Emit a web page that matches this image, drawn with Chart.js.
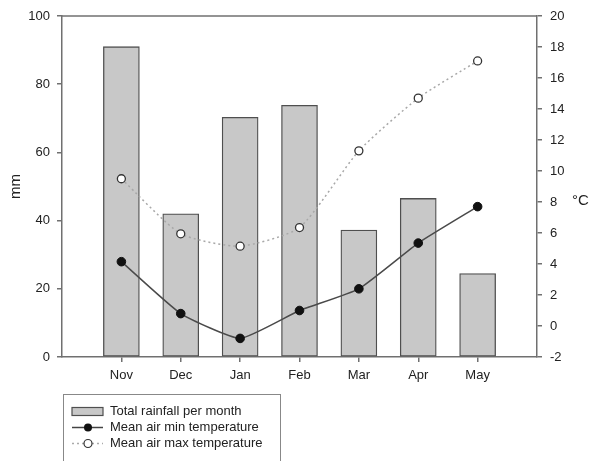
<!DOCTYPE html>
<html>
<head>
<meta charset="utf-8">
<script src="https://cdn.jsdelivr.net/npm/chart.js@4/dist/chart.umd.min.js"></script>
<style>
html, body { margin: 0; padding: 0; background: #fff; }
#wrap { width: 589px; height: 461px; }
</style>
</head>
<body>
<div id="wrap"><canvas id="chart" width="589" height="461"></canvas></div>
<script>
// データ
const months = ['Nov', 'Dec', 'Jan', 'Feb', 'Mar', 'Apr', 'May'];
const rainfall = [91, 42, 70.3, 73.8, 37.2, 46.5, 24.5];   // mm
const minTemp = [4.15, 0.8, -0.8, 1.0, 2.4, 5.35, 7.7];    // °C
const maxTemp = [9.5, 5.95, 5.15, 6.35, 11.3, 14.7, 17.1]; // °C
const legendLabels = ['Total rainfall per month', 'Mean air min temperature', 'Mean air max temperature'];

const textColor = '#222';
const axisColor = '#707070';
const barFill = '#c8c8c8';
const barEdge = '#4f4f4f';
const fontFamily = '"Liberation Sans", Arial, sans-serif';

// 両端に空のカテゴリを置いて余白を作る
const labels = ['', ...months, ''];
const pad = arr => [null, ...arr, null];

Chart.defaults.font.family = fontFamily;
Chart.defaults.font.size = 13;
Chart.defaults.color = textColor;

const framePlugin = {
    id: 'frame',
    afterDraw(chart) {
        const ctx = chart.ctx;
        const a = chart.chartArea;
        ctx.save();
        // 上の枠線
        ctx.strokeStyle = axisColor;
        ctx.lineWidth = 1.5;
        ctx.beginPath();
        ctx.moveTo(a.left, a.top);
        ctx.lineTo(a.right, a.top);
        ctx.stroke();

        // 右軸の単位
        ctx.fillStyle = textColor;
        ctx.font = '15px ' + fontFamily;
        ctx.textBaseline = 'middle';
        ctx.textAlign = 'left';
        ctx.fillText('°C', 572, 201);

        // 凡例
        ctx.strokeStyle = '#888';
        ctx.lineWidth = 1;
        ctx.strokeRect(63.5, 394.5, 217, 80);

        const x0 = 72, x1 = 103, xm = 88, tx = 110;
        const rows = [411.5, 427.5, 443.5];

        ctx.fillStyle = barFill;
        ctx.fillRect(x0, rows[0] - 4, x1 - x0, 8);
        ctx.strokeStyle = barEdge;
        ctx.lineWidth = 1.2;
        ctx.strokeRect(x0, rows[0] - 4, x1 - x0, 8);

        ctx.strokeStyle = '#444';
        ctx.lineWidth = 1.5;
        ctx.beginPath();
        ctx.moveTo(x0, rows[1]);
        ctx.lineTo(x1, rows[1]);
        ctx.stroke();
        ctx.fillStyle = '#111';
        ctx.beginPath();
        ctx.arc(xm, rows[1], 4, 0, Math.PI * 2);
        ctx.fill();

        ctx.strokeStyle = '#aaa';
        ctx.setLineDash([2, 3]);
        ctx.beginPath();
        ctx.moveTo(x0, rows[2]);
        ctx.lineTo(x1, rows[2]);
        ctx.stroke();
        ctx.setLineDash([]);
        ctx.fillStyle = '#fff';
        ctx.strokeStyle = '#333';
        ctx.lineWidth = 1.2;
        ctx.beginPath();
        ctx.arc(xm, rows[2], 4, 0, Math.PI * 2);
        ctx.fill();
        ctx.stroke();

        ctx.fillStyle = textColor;
        ctx.font = '13px ' + fontFamily;
        legendLabels.forEach((t, i) => ctx.fillText(t, tx, rows[i]));
        ctx.restore();
    }
};

const tickGrid = {
    drawOnChartArea: false,
    drawTicks: true,
    tickLength: 5,
    color: axisColor,
    lineWidth: 1.5
};

new Chart(document.getElementById('chart').getContext('2d'), {
    data: {
        labels: labels,
        datasets: [
            {
                type: 'line',
                label: legendLabels[1],
                data: pad(minTemp),
                yAxisID: 'y1',
                borderColor: '#4a4a4a',
                borderWidth: 1.5,
                tension: 0.15,
                pointRadius: 4.3,
                pointBackgroundColor: '#111',
                pointBorderColor: '#111',
                pointBorderWidth: 1,
                order: 1
            },
            {
                type: 'line',
                label: legendLabels[2],
                data: pad(maxTemp),
                yAxisID: 'y1',
                borderColor: '#a8a8a8',
                borderWidth: 1.5,
                borderDash: [2, 3],
                tension: 0.2,
                pointRadius: 4,
                pointBackgroundColor: '#fff',
                pointBorderColor: '#333',
                pointBorderWidth: 1.3,
                order: 0
            },
            {
                type: 'bar',
                label: legendLabels[0],
                data: pad(rainfall),
                yAxisID: 'y',
                backgroundColor: barFill,
                borderColor: barEdge,
                borderWidth: 1.3,
                borderSkipped: false,
                barThickness: 36,
                order: 2
            }
        ]
    },
    options: {
        responsive: false,
        devicePixelRatio: 1,
        animation: false,
        layout: { padding: { top: 16, left: 0, right: 0, bottom: 0 } },
        plugins: {
            legend: { display: false },
            tooltip: { enabled: false }
        },
        scales: {
            x: {
                offset: false,
                afterFit: s => { s.height = 104; },
                grid: {
                    offset: false,
                    drawOnChartArea: false,
                    drawTicks: true,
                    tickLength: 5,
                    lineWidth: 1.5,
                    color: c => (c.index === 0 || c.index === labels.length - 1) ? 'rgba(0,0,0,0)' : axisColor
                },
                border: { display: true, color: axisColor, width: 1.5 },
                ticks: { padding: 6, maxRotation: 0, autoSkip: false }
            },
            y: {
                position: 'left',
                min: 0,
                max: 100,
                afterFit: s => { s.width = 62; },
                grid: tickGrid,
                border: { display: true, color: axisColor, width: 1.5 },
                ticks: { stepSize: 20, padding: 7 },
                title: { display: true, text: 'mm', font: { size: 15 }, padding: { top: 7, bottom: 0 } }
            },
            y1: {
                position: 'right',
                min: -2,
                max: 20,
                afterFit: s => { s.width = 52; },
                grid: tickGrid,
                border: { display: true, color: axisColor, width: 1.5 },
                ticks: { stepSize: 2, padding: 8 }
            }
        }
    },
    plugins: [framePlugin]
});
</script>
</body>
</html>
